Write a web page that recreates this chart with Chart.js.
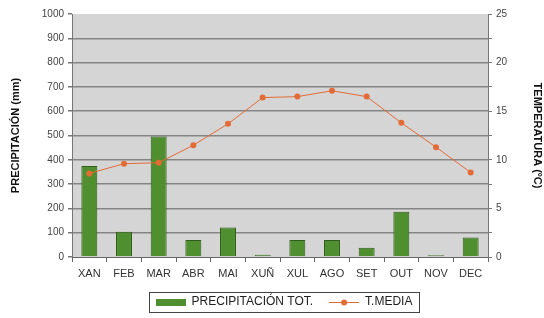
<!DOCTYPE html>
<html>
<head>
<meta charset="utf-8">
<script src="https://cdn.jsdelivr.net/npm/chart.js@4.4.1/dist/chart.umd.min.js"></script>
<style>
  html, body { margin: 0; padding: 0; background: #ffffff; }
  #caja { width: 544px; height: 318px; }
</style>
</head>
<body>
<div id="caja"><canvas id="grafica"></canvas></div>
<script>
var meses = ['XAN', 'FEB', 'MAR', 'ABR', 'MAI', 'XUÑ', 'XUL', 'AGO', 'SET', 'OUT', 'NOV', 'DEC'];
var precipitacion = [375, 104, 496, 70, 121, 9, 70, 70, 38, 186, 7, 80];
var temperatura = [8.6, 9.6, 9.7, 11.5, 13.7, 16.4, 16.5, 17.1, 16.5, 13.8, 11.3, 8.7];

var verde = '#4f8f2f';
var laranxa = '#e36b36';

// iconas da lenda
function iconaBarra(){
    var c = document.createElement('canvas');
    c.width = 30; c.height = 7;
    var x = c.getContext('2d');
    x.fillStyle = verde;
    x.fillRect(0, 0, 30, 7);
    return c;
}
function iconaLinha(){
    var c = document.createElement('canvas');
    c.width = 30; c.height = 8;
    var x = c.getContext('2d');
    x.strokeStyle = laranxa;
    x.lineWidth = 1;
    x.beginPath(); x.moveTo(0, 4.5); x.lineTo(30, 4.5); x.stroke();
    x.fillStyle = laranxa;
    x.beginPath(); x.arc(15, 4.5, 3, 0, Math.PI*2); x.fill();
    return c;
}
var iconas = [iconaBarra(), iconaLinha()];

var fondo = {
    id: 'fondo',
    beforeDraw: function(chart){
        var a = chart.chartArea;
        var ctx = chart.ctx;
        ctx.save();
        ctx.fillStyle = '#d5d5d5';
        ctx.fillRect(a.left, a.top, a.right - a.left, a.bottom - a.top);
        ctx.restore();
    }
};

// a lenda vai un pouco á dereita
var desprazamento = 12;
var espazo = 16;

var marcoLenda = {
    id: 'marcoLenda',
    afterLayout: function(chart){
        chart.legend.left += desprazamento * 2;
    },
    afterDraw: function(chart){
        var lenda = chart.legend;
        var caixas = lenda.legendHitBoxes;
        if(!caixas || !caixas.length) return;
        var w = lenda.lineWidths[0];
        var x0 = (lenda.left + lenda.right + espazo - w) / 2;
        var x1 = x0 + w - espazo;
        var t = caixas[0].top, b = caixas[0].top + caixas[0].height;
        var ctx = chart.ctx;
        ctx.save();
        ctx.strokeStyle = '#444';
        ctx.lineWidth = 1;
        ctx.strokeRect(Math.round(x0 - 7) + 0.5, Math.round(t - 4) + 0.5, Math.round(x1 - x0 + 13), Math.round(b - t + 8));
        ctx.restore();
    }
};

var ctx = document.getElementById('grafica').getContext('2d');

var grafica = new Chart(ctx, {
    type: 'bar',
    data: {
        labels: meses,
        datasets: [{
            label: 'PRECIPITACIÓN TOT.',
            data: precipitacion,
            yAxisID: 'y',
            backgroundColor: verde,
            borderColor: '#2e5c1a',
            borderWidth: 1,
            barPercentage: 0.46,
            categoryPercentage: 1,
            order: 1
        }, {
            type: 'line',
            label: 'T.MEDIA',
            data: temperatura,
            yAxisID: 'y1',
            borderColor: laranxa,
            borderWidth: 1,
            backgroundColor: laranxa,
            pointRadius: 3,
            pointBackgroundColor: laranxa,
            pointBorderWidth: 0,
            tension: 0,
            order: 0
        }]
    },
    options: {
        responsive: true,
        maintainAspectRatio: false,
        animation: false,
        layout: { padding: { top: 14, bottom: 0, left: 0, right: 0 } },
        plugins: {
            tooltip: { enabled: false },
            legend: {
                position: 'bottom',
                labels: {
                    usePointStyle: true,
                    pointStyleWidth: 30,
                    boxHeight: 8,
                    padding: espazo,
                    color: '#222',
                    font: { family: 'Liberation Sans', size: 12 },
                    generateLabels: function(chart){
                        return chart.data.datasets.map(function(d, i){
                            return {
                                text: d.label,
                                fontColor: '#222',
                                pointStyle: iconas[i],
                                fillStyle: verde,
                                strokeStyle: verde,
                                lineWidth: 0,
                                hidden: false,
                                datasetIndex: i
                            };
                        });
                    }
                }
            }
        },
        scales: {
            x: {
                grid: { display: true, drawOnChartArea: false, offset: true, color: '#666', tickLength: 5 },
                border: { color: '#666' },
                ticks: { color: '#333', font: { family: 'Liberation Sans', size: 11 }, padding: 5 },
                afterFit: function(s){ s.height = 23; }
            },
            y: {
                position: 'left',
                min: 0, max: 1000,
                ticks: {
                    stepSize: 50,
                    color: '#444',
                    font: { family: 'Liberation Sans', size: 10 },
                    padding: 4,
                    callback: function(v){ return v % 100 === 0 ? v : ''; }
                },
                grid: {
                    tickLength: 4,
                    tickColor: '#777',
                    color: function(c){
                        var v = c.tick.value;
                        if(v % 100 !== 0 || v === 0 || v === 1000) return 'rgba(0,0,0,0)';
                        return '#858585';
                    },
                    lineWidth: 1.5
                },
                border: { color: '#777' },
                title: {
                    display: true,
                    text: 'PRECIPITACIÓN (mm)',
                    color: '#111',
                    font: { family: 'Liberation Sans', size: 11, weight: 'bold' },
                    padding: { top: 9, bottom: 0 }
                },
                afterFit: function(s){ s.width = 72; }
            },
            y1: {
                position: 'right',
                min: 0, max: 25,
                ticks: {
                    stepSize: 2.5,
                    color: '#444',
                    font: { family: 'Liberation Sans', size: 10 },
                    padding: 4,
                    callback: function(v){ return v % 5 === 0 ? v : ''; }
                },
                grid: { drawOnChartArea: false, tickLength: 4, color: '#777' },
                border: { color: '#777' },
                title: {
                    display: true,
                    text: 'TEMPERATURA (ºC)',
                    color: '#111',
                    font: { family: 'Liberation Sans', size: 11, weight: 'bold' },
                    padding: 0
                },
                afterFit: function(s){ s.width = 56; }
            }
        }
    },
    plugins: [fondo, marcoLenda]
});
</script>
</body>
</html>
